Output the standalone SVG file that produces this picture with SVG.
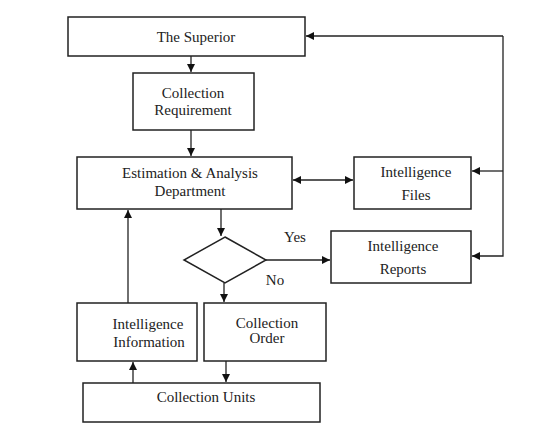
<svg xmlns="http://www.w3.org/2000/svg" width="556" height="432" viewBox="0 0 556 432">
<defs>
<marker id="ah" viewBox="0 0 10 10" refX="10" refY="5" markerWidth="9" markerHeight="8" markerUnits="userSpaceOnUse" orient="auto-start-reverse">
<path d="M0,0 L10,5 L0,10 z" fill="#111"/>
</marker>
<style>
.box{fill:#fff;stroke:#222;stroke-width:1.5}
.t{font-family:"Liberation Serif",serif;font-size:15px;fill:#222;text-anchor:middle}
.c{fill:none;stroke:#222;stroke-width:1.3}
</style>
</defs>
<rect width="556" height="432" fill="#fff"/>
<g id="superior"><rect class="box" x="68" y="17" width="237" height="39"/><text class="t" x="196" y="42">The Superior</text></g>
<g id="requirement"><rect class="box" x="133" y="73" width="121" height="57"/><text class="t" x="193" y="98">Collection</text><text class="t" x="193" y="115">Requirement</text></g>
<g id="estimation"><rect class="box" x="77" y="157" width="215" height="52"/><text class="t" x="190" y="178">Estimation &amp; Analysis</text><text class="t" x="190" y="196">Department</text></g>
<g id="files"><rect class="box" x="354" y="157" width="117" height="52"/><text class="t" x="416" y="177">Intelligence</text><text class="t" x="416" y="200">Files</text></g>
<g id="decision"><polygon class="box" points="225,237 266,260 225,283 184,260"/></g>
<g id="reports"><rect class="box" x="331" y="231" width="140" height="52"/><text class="t" x="403" y="251">Intelligence</text><text class="t" x="403" y="274">Reports</text></g>
<g id="information"><rect class="box" x="77" y="303" width="120" height="58"/><text class="t" x="148" y="329">Intelligence</text><text class="t" x="149" y="347">Information</text></g>
<g id="order"><rect class="box" x="204" y="303" width="122" height="58"/><text class="t" x="267" y="328">Collection</text><text class="t" x="267" y="343">Order</text></g>
<g id="units"><rect class="box" x="83" y="383" width="237" height="39"/><text class="t" x="206" y="402">Collection Units</text></g>
<g id="connectors">
<line class="c" x1="191" y1="56" x2="191" y2="72" marker-end="url(#ah)"/>
<line class="c" x1="191" y1="130" x2="191" y2="156" marker-end="url(#ah)"/>
<line class="c" x1="293" y1="180" x2="353" y2="180" marker-start="url(#ah)" marker-end="url(#ah)"/>
<polyline class="c" points="503,36 503,256 472,256" marker-end="url(#ah)"/>
<line class="c" x1="503" y1="36" x2="306" y2="36" marker-end="url(#ah)"/>
<line class="c" x1="503" y1="171" x2="472" y2="171" marker-end="url(#ah)"/>
<line class="c" x1="221" y1="209" x2="221" y2="236" marker-end="url(#ah)"/>
<line class="c" x1="266" y1="260" x2="330" y2="260" marker-end="url(#ah)"/>
<line class="c" x1="224" y1="283" x2="224" y2="302" marker-end="url(#ah)"/>
<line class="c" x1="128" y1="303" x2="128" y2="210" marker-end="url(#ah)"/>
<line class="c" x1="226" y1="361" x2="226" y2="382" marker-end="url(#ah)"/>
<line class="c" x1="133" y1="383" x2="133" y2="362" marker-end="url(#ah)"/>
<text class="t" x="295" y="242">Yes</text>
<text class="t" x="275" y="285">No</text>
</g>
</svg>
